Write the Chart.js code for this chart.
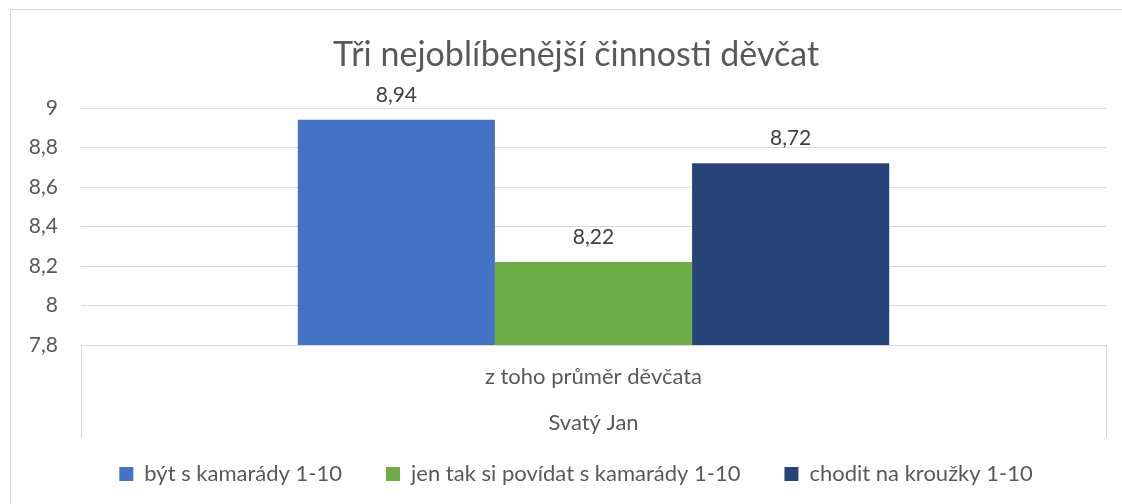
<!DOCTYPE html>
<html>
<head>
<meta charset="utf-8">
<script src="https://cdn.jsdelivr.net/npm/chart.js@4/dist/chart.umd.min.js"></script>
<style>
  html, body { margin: 0; padding: 0; background: #fff; overflow: hidden; width: 1122px; height: 504px; }
  #box { position: absolute; left: 10px; top: 9px; width: 1130px; height: 530px; border: 1px solid #d9d9d9; }
  #wrap { position: relative; width: 1130px; height: 494px; }
</style>
</head>
<body>
<div id="box"><div id="wrap"><canvas id="chart"></canvas></div></div>
<script>
var chartTitle = 'Tři nejoblíbenější činnosti děvčat';
var categories = [['z toho průměr děvčata', 'Svatý Jan']];
var seriesNames = ['být s kamarády 1-10', 'jen tak si povídat s kamarády 1-10', 'chodit na kroužky 1-10'];
var seriesValues = [[8.94], [8.22], [8.72]];
var seriesColors = ['#4472c4', '#70ad47', '#264478'];
var yMin = 7.8, yMax = 9, yStep = 0.2;

function fmt(v) {
    return String(Math.round(v * 100) / 100).replace('.', ',');
}

// value labels above the bars
var valueLabels = {
    id: 'valueLabels',
    afterDatasetsDraw: function (chart) {
        var ctx = chart.ctx;
        ctx.save();
        ctx.font = '21px Lato';
        ctx.fillStyle = '#404040';
        ctx.textAlign = 'center';
        ctx.textBaseline = 'alphabetic';
        chart.data.datasets.forEach(function (ds, i) {
            chart.getDatasetMeta(i).data.forEach(function (bar, j) {
                ctx.fillText(fmt(ds.data[j]), bar.x, bar.y - 18);
            });
        });
        ctx.restore();
    }
};

// axis labels overflow their boxes (category box over the legend, y labels into left padding)
var unclipLabels = {
    id: 'unclipLabels',
    afterLayout: function (chart) {
        chart.scales.x.bottom = chart.height;
        chart.scales.y.left = 0;
    }
};

var datasets = seriesNames.map(function (name, i) {
    return {
        label: name,
        data: seriesValues[i],
        backgroundColor: seriesColors[i],
        borderWidth: 0,
        barPercentage: 1,
        categoryPercentage: 0.577
    };
});

new Chart(document.getElementById('chart'), {
    type: 'bar',
    data: { labels: categories, datasets: datasets },
    plugins: [valueLabels, unclipLabels],
    options: {
        responsive: true,
        maintainAspectRatio: false,
        animation: false,
        layout: { padding: { left: 35, right: 35, top: 0, bottom: 9 } },
        plugins: {
            title: {
                display: true,
                text: chartTitle,
                color: '#595959',
                font: { family: 'Lato', size: 34, weight: 'normal', lineHeight: 1.2 },
                padding: { top: 24.6, bottom: 32.6 }
            },
            legend: {
                position: 'bottom',
                labels: {
                    color: '#595959',
                    font: { family: 'Lato', size: 22 },
                    boxWidth: 14,
                    boxHeight: 14,
                    padding: 44
                }
            },
            tooltip: { enabled: false }
        },
        scales: {
            x: {
                grid: {
                    offset: true,
                    drawOnChartArea: false,
                    drawTicks: true,
                    tickLength: 93,
                    color: '#d9d9d9',
                    lineWidth: 1
                },
                border: { display: true, color: '#d9d9d9' },
                ticks: {
                    color: '#595959',
                    font: { family: 'Lato', size: 22, lineHeight: 2.0909 },
                    padding: -84.5,
                    maxRotation: 0
                },
                afterFit: function (scale) { scale.height = 74; }
            },
            y: {
                min: yMin,
                max: yMax,
                ticks: {
                    stepSize: yStep,
                    color: '#595959',
                    font: { family: 'Lato', size: 21 },
                    padding: 23,
                    callback: function (v) { return fmt(v); }
                },
                grid: { color: '#d9d9d9', lineWidth: 1, drawTicks: false },
                border: { display: false },
                afterFit: function (scale) { scale.width = 35; }
            }
        }
    }
});
</script>
</body>
</html>
